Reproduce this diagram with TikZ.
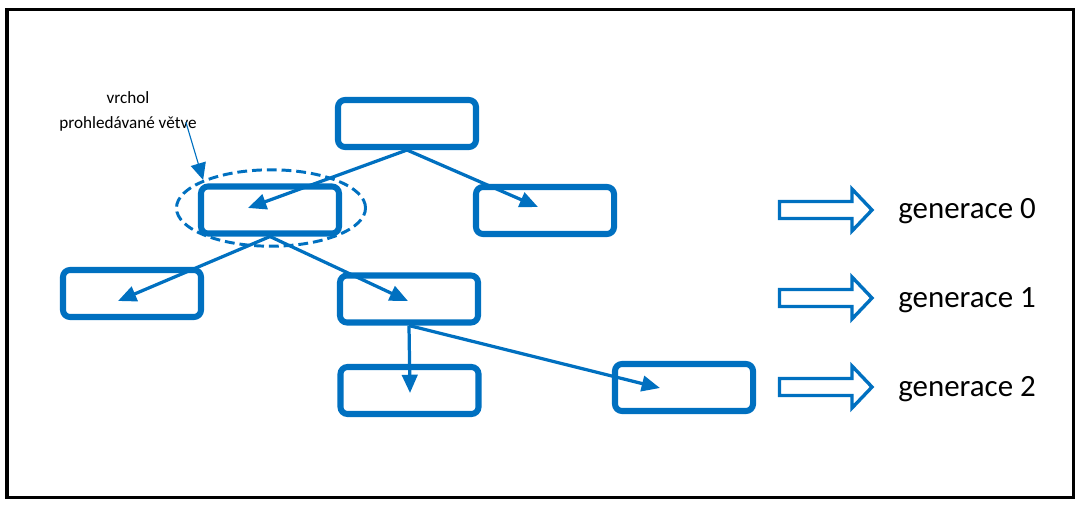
\documentclass[tikz,border=0pt]{standalone}
\usepackage{fontspec}
\setmainfont{Carlito}
\usepackage{xcolor}
\usetikzlibrary{shapes.geometric, arrows.meta, positioning, calc}
\definecolor{treeblue}{RGB}{0,112,192}

\begin{document}
\begin{tikzpicture}[
  x=0.025cm, y=-0.025cm,
  vertex/.style={
    rectangle, rounded corners=5pt, draw=treeblue, line width=4.3pt,
    minimum width=3.45cm, minimum height=1.175cm, inner sep=0pt
  },
  arrow/.style={-{Triangle[length=13pt,width=11pt]}, line width=2.3pt, treeblue},
  branch/.style={ellipse, draw=treeblue, line width=2.1pt, dash pattern=on 7pt off 3.5pt,
    minimum width=4.725cm, minimum height=1.91cm, inner sep=0pt},
  note/.style={font=\fontsize{12.2}{17.8}\selectfont, align=center, inner sep=0pt},
  genarrow/.style={draw=treeblue, line width=2.4pt, line join=miter},
  gentext/.style={font=\fontsize{22}{26}\selectfont, inner sep=0pt, anchor=base west}
]
\useasboundingbox (0,0) rectangle (1080,505);

% Frame
\draw[line width=2.2pt] (7,9.5) rectangle (1073.5,497.5);

% Tree vertices
\node[vertex] (root) at (407,123.5) {};
\node[vertex] (g0l)  at (270,210)   {};
\node[vertex] (g0r)  at (545,210.5) {};
\node[vertex] (g1l)  at (132,293.5) {};
\node[vertex] (g1r)  at (409,299)   {};
\node[vertex] (g2l)  at (409.5,390.5) {};
\node[vertex] (g2r)  at (684,387.5) {};

% Arrow tips inside the boxes
\coordinate (t1) at (248,208);
\coordinate (t2) at (538,207);
\coordinate (t3) at (118,301);
\coordinate (t4) at (408,301);
\coordinate (t5) at (410,393);
\coordinate (t6) at (660,388);

% Edges
\draw[arrow] (root.south) -- (t1);
\draw[arrow] (root.south) -- (t2);
\draw[arrow] (g0l.south) -- (t3);
\draw[arrow] (g0l.south) -- (t4);
\draw[arrow] (g1r.south) -- (t5);
\draw[arrow] (g1r.south) -- (t6);

% Searched branch
\node[branch] (branchtop) at (271,208) {};
\node[note] (branchnote) at (128,111) {vrchol\\prohledávané větve};
\draw[-{Triangle[length=12pt,width=11pt]}, line width=0.8pt, treeblue]
  ([shift={(-11,-9)}]branchnote.south east) -- (branchtop.north west);

% Generations
\foreach \g/\y in {0/210,1/298,2/387} {
  \draw[genarrow] (779.5,\y-8.5) -- (852,\y-8.5) -- (852,\y-21) -- (872,\y)
    -- (852,\y+21) -- (852,\y+8.5) -- (779.5,\y+8.5) -- cycle;
  \node[gentext] (gen\g) at (898,\y+9) {generace \g};
}

\end{tikzpicture}
\end{document}
